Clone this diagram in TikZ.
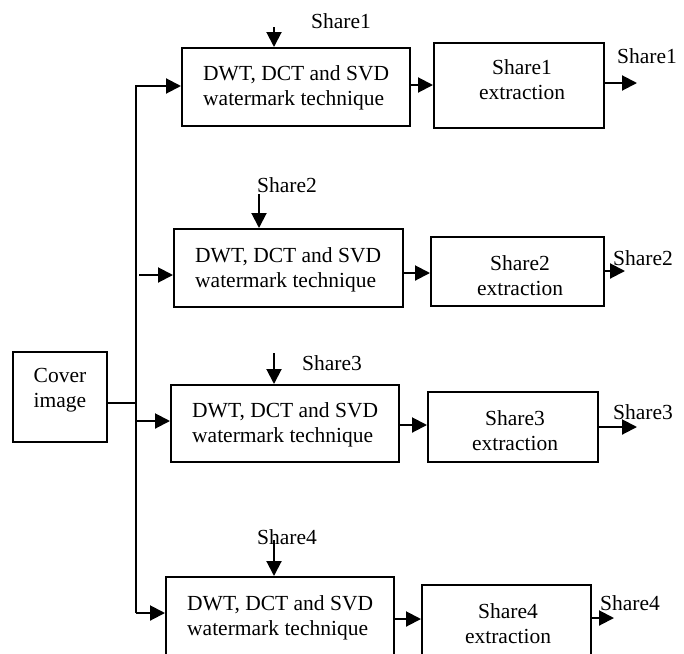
\documentclass[tikz,border=0pt]{standalone}
\usepackage{fontspec}
\setmainfont{Liberation Serif}
\usetikzlibrary{arrows.meta}
\begin{document}
\begin{tikzpicture}[x=1pt,y=-1pt,
  box/.style={draw,line width=2pt,inner sep=0pt},
  txt/.style={inner sep=0pt,font=\fontsize{21.5}{25}\selectfont},
  arr/.style={line width=2pt,-{Triangle[length=15pt,width=15pt]}},
  ln/.style={line width=2pt}]
\useasboundingbox (0,0) rectangle (684,653);

% Cover image
\node[box,minimum width=94pt,minimum height=90pt] (cover) at (60,397) {};
\node[txt,align=center,anchor=north] (covert) at (60,368) {Cover\\image};

% DWT boxes
\node[box,minimum width=228pt,minimum height=78pt] (dwt1) at (296,87) {};
\node[txt,align=left,anchor=north west] (dwt1t) at (203,65) {DWT, DCT and SVD\\watermark technique};
\node[box,minimum width=229pt,minimum height=78pt] (dwt2) at (288.5,268) {};
\node[txt,align=left,anchor=north west] (dwt2t) at (195,247) {DWT, DCT and SVD\\watermark technique};
\node[box,minimum width=228pt,minimum height=77pt] (dwt3) at (285,423.5) {};
\node[txt,align=left,anchor=north west] (dwt3t) at (192,402) {DWT, DCT and SVD\\watermark technique};
\node[box,minimum width=228pt,minimum height=78pt] (dwt4) at (280,616) {};
\node[txt,align=left,anchor=north west] (dwt4t) at (187,595) {DWT, DCT and SVD\\watermark technique};

% Extraction boxes
\node[box,minimum width=170pt,minimum height=85pt] (ext1) at (519,85.5) {};
\node[txt,align=center,anchor=north] (ext1t) at (522,59) {Share1\\extraction};
\node[box,minimum width=173pt,minimum height=69pt] (ext2) at (517.5,271.5) {};
\node[txt,align=center,anchor=north] (ext2t) at (520,255) {Share2\\extraction};
\node[box,minimum width=170pt,minimum height=70pt] (ext3) at (513,427) {};
\node[txt,align=center,anchor=north] (ext3t) at (515,410) {Share3\\extraction};
\node[box,minimum width=169pt,minimum height=70pt] (ext4) at (506.5,620) {};
\node[txt,align=center,anchor=north] (ext4t) at (508,603) {Share4\\extraction};

% trunk and feeds
\coordinate (j1) at (136,86);
\coordinate (j4) at (136,613);
\coordinate (jc) at (136,403);
\coordinate (a2) at (139,275);
\coordinate (a3) at (136,421);
\draw[ln] (cover.east |- jc) -- (jc);
\draw[arr] (j4) -- (j1) -- (j1 -| dwt1.west);
\draw[arr] (j4) -- (j4 -| dwt4.west);
\draw[arr] (a2) -- (a2 -| dwt2.west);
\draw[arr] (a3) -- (a3 -| dwt3.west);

% dwt -> extraction
\coordinate (m1) at (0,85);
\coordinate (m2) at (0,273);
\coordinate (m3) at (0,425);
\coordinate (m4) at (0,619);
\draw[arr] (m1 -| dwt1.east) -- (m1 -| ext1.west);
\draw[arr] (m2 -| dwt2.east) -- (m2 -| ext2.west);
\draw[arr] (m3 -| dwt3.east) -- (m3 -| ext3.west);
\draw[arr] (m4 -| dwt4.east) -- (m4 -| ext4.west);

% outputs
\coordinate (o1) at (637,83);
\coordinate (o2) at (625,271);
\coordinate (o3) at (637,427);
\coordinate (o4) at (614,618);
\draw[arr] (o1 -| ext1.east) -- (o1);
\draw[arr] (o2 -| ext2.east) -- (o2);
\draw[arr] (o3 -| ext3.east) -- (o3);
\draw[arr] (o4 -| ext4.east) -- (o4);
\node[txt,anchor=north west] (l1) at (617,48) {Share1};
\node[txt,anchor=north west] (l2) at (613,250) {Share2};
\node[txt,anchor=north west] (l3) at (613,404) {Share3};
\node[txt,anchor=north west] (l4) at (600,595) {Share4};

% inputs
\coordinate (i1) at (274,27);
\coordinate (i2) at (259,194);
\coordinate (i3) at (274,353);
\coordinate (i4) at (274,540);
\draw[arr] (i1) -- (i1 |- dwt1.north);
\draw[arr] (i2) -- (i2 |- dwt2.north);
\draw[arr] (i3) -- (i3 |- dwt3.north);
\draw[arr] (i4) -- (i4 |- dwt4.north);
\node[txt,anchor=north west] (s1) at (311,13) {Share1};
\node[txt,anchor=north west] (s2) at (257,177) {Share2};
\node[txt,anchor=north west] (s3) at (302,355) {Share3};
\node[txt,anchor=north west] (s4) at (257,529) {Share4};
\end{tikzpicture}
\end{document}
